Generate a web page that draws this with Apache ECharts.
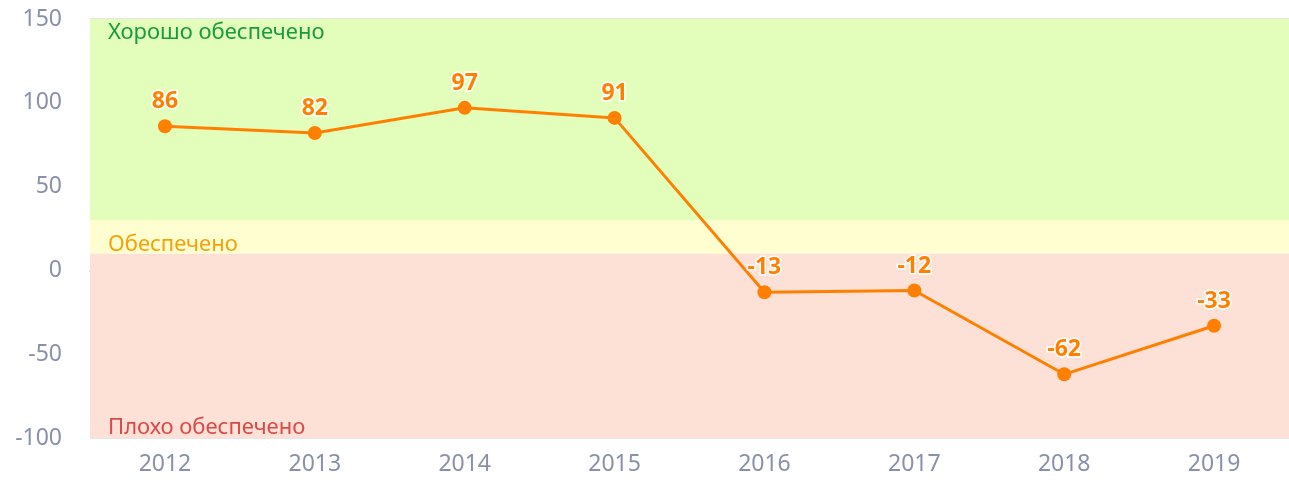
<!DOCTYPE html>
<html lang="ru">
  <head>
    <meta charset="utf-8" />
    <title>Обеспеченность</title>
    <style>
      html, body { margin: 0; padding: 0; background: #fff; }
      #chart-container { width: 1289px; height: 481px; }
    </style>
  </head>
  <body>
    <div id="chart-container"></div>
    <script src="https://cdn.jsdelivr.net/npm/echarts@6/dist/echarts.min.js"></script>
    <script>
      var years = ["2012", "2013", "2014", "2015", "2016", "2017", "2018", "2019"];
      var values = [86, 82, 97, 91, -13, -12, -62, -33];
      // зоны: [от, до, подпись]
      var zoneGood = [30, 150, "Хорошо обеспечено"];
      var zoneOk = [10, 30, "Обеспечено"];
      var zoneBad = [-100, 10, "Плохо обеспечено"];

      var font = "Noto Sans";
      var myChart = echarts.init(document.getElementById("chart-container"), null, { renderer: "canvas" });

      function zoneLabel(color, pos, offset) {
        return {
          show: true,
          position: pos,
          offset: offset,
          color: color,
          fontFamily: font,
          fontSize: 22
        };
      }

      var option = {
        animation: false,
        grid: { left: 90, right: 0, top: 19, bottom: 43 },
        xAxis: {
          type: "category",
          data: years,
          axisLine: { lineStyle: { color: "#d3d9ea", width: 2 } },
          axisTick: { show: false },
          axisLabel: { color: "#8990aa", fontSize: 23, fontFamily: font, margin: 15 }
        },
        yAxis: {
          type: "value",
          min: -100,
          max: 150,
          interval: 50,
          axisLine: { show: false },
          axisTick: { show: false },
          splitLine: { lineStyle: { color: "#e6e6e6", width: 2 } },
          axisLabel: { color: "#8990aa", fontSize: 23, fontFamily: font, margin: 28 }
        },
        series: [
          {
            type: "line",
            data: values,
            color: "#ff8000",
            symbol: "circle",
            symbolSize: 14,
            lineStyle: { width: 3, color: "#ff8000" },
            itemStyle: { color: "#ff8000" },
            label: {
              show: true,
              position: "top",
              distance: 6,
              color: "#ff8000",
              fontFamily: font,
              fontWeight: "bold",
              fontSize: 23,
              textBorderColor: "#fff",
              textBorderWidth: 3
            },
            z: 5,
            markArea: {
              silent: true,
              z: 1,
              data: [
                [
                  { yAxis: zoneGood[0], name: zoneGood[2], itemStyle: { color: "#e3fdbb" },
                    label: zoneLabel("#1a9b3c", "insideTopLeft", [13, -2]) },
                  { yAxis: zoneGood[1] }
                ],
                [
                  { yAxis: zoneOk[0], name: zoneOk[2], itemStyle: { color: "#fefed1" },
                    label: zoneLabel("#f5a20a", "insideBottomLeft", [13, 7]) },
                  { yAxis: zoneOk[1] }
                ],
                [
                  { yAxis: zoneBad[0], name: zoneBad[2], itemStyle: { color: "#fde0d6" },
                    label: zoneLabel("#d94a4a", "insideBottomLeft", [13, 6]) },
                  { yAxis: zoneBad[1] }
                ]
              ]
            }
          }
        ]
      };

      myChart.setOption(option);
      window.addEventListener("resize", myChart.resize);
    </script>
  </body>
</html>
